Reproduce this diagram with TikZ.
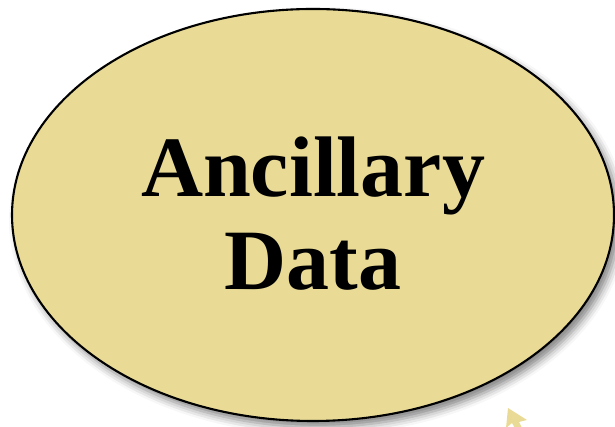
\documentclass[tikz,border=0pt]{standalone}
\usepackage{fontspec}
\setmainfont{Liberation Serif}
\usepackage{tikz}
\usetikzlibrary{shapes.geometric, shadows.blur}

\definecolor{sandfill}{HTML}{E9DB96}

\begin{document}
\begin{tikzpicture}[
        x=1pt, y=1pt,
        blob/.style={ellipse, draw, line width=2.1pt, fill=sandfill, inner sep=0pt,
            minimum width=602pt, minimum height=412pt,
            blur shadow={shadow xshift=5pt, shadow yshift=-6pt, shadow blur radius=8pt, shadow opacity=50}},
        bigtext/.style={align=center, inner sep=0pt, font=\bfseries\fontsize{86}{93}\selectfont}
        ]
        \useasboundingbox (0,0) rectangle (615,427);
        % Ellipse
        \node[blob] (ancillary) at (313,212) {};
        % Text
        \node[bigtext] (txt) at ([yshift=1pt]ancillary.center) {Ancillary\\Data};
        % Pointer
        \coordinate (tip) at (508,19);
        \fill[sandfill] (tip) -- ++(19,-12) -- ++(-8,-2) -- ++(5,-10) -- ++(-7,0) -- ++(-5,9) -- ++(-6,-5) -- cycle;
    \end{tikzpicture}
\end{document}
